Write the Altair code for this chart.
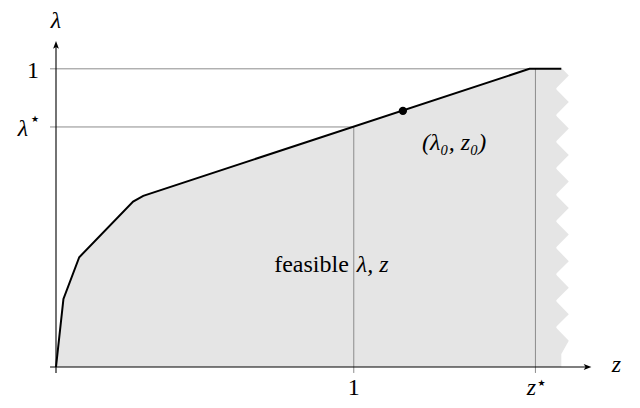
import altair as alt
import pandas as pd

# ---------------- data ----------------
# frontier of the feasible region (z, lambda)
CURVE_Z = [0.0, 0.025, 0.078, 0.259, 0.293, 1.59, 1.697]
CURVE_L = [0.0, 0.228, 0.368, 0.555, 0.574, 1.0, 1.0]
# shaded area under the frontier (stops at the zig-zag cut)
AREA_Z = [0.0, 0.025, 0.078, 0.259, 0.293, 1.59, 1.68]
AREA_L = [0.0, 0.228, 0.368, 0.555, 0.574, 1.0, 1.0]
# zig-zag right edge of the shaded region
ZIG_L = [1.0, 0.9775, 0.9332, 0.8886, 0.8443, 0.7997, 0.7554, 0.7107, 0.6664,
         0.6218, 0.5775, 0.5329, 0.4886, 0.4440, 0.3997, 0.3550, 0.3107,
         0.2661, 0.2218, 0.1772, 0.1329, 0.0883, 0.0436, 0.0]
ZIG_Z = [1.700, 1.722, 1.678, 1.722, 1.678, 1.722, 1.678, 1.722, 1.678,
         1.722, 1.678, 1.722, 1.678, 1.722, 1.678, 1.722, 1.678,
         1.722, 1.678, 1.722, 1.678, 1.722, 1.697, 1.697]
ZIG_BASE = 1.67

Z_STAR = 1.61
L_STAR = 0.805
Z0 = 1.165
L0 = 0.859

# reference lines
H_LINE_L = [1.0, L_STAR]
H_LINE_END = [1.59, 1.0]
V_LINE_Z = [1.0, Z_STAR]
V_LINE_END = [L_STAR, 1.0]

X_TICK_Z = [1.0]
X_TICK_TEXT = ["1"]
Y_TICK_L = [1.0]
Y_TICK_TEXT = ["1"]
REGION_Z = 1.0
REGION_L = 0.32

X_MAX = 1.785
Y_MAX = 1.08
OVER = 0.02   # little tick overhang beyond the axes

SERIF = "Liberation Serif"
FS = 24
GRAY = "#8c8c8c"
FILL = "#e5e5e5"

# ---------------- scales ----------------
xs = alt.Scale(domain=[0, 1.8], nice=False, zero=False)
ys = alt.Scale(domain=[0, 1.1], nice=False, zero=False)


def X(f, **k):
    return alt.X(f, scale=xs, axis=None, **k)


def Y(f, **k):
    return alt.Y(f, scale=ys, axis=None, **k)


curve = pd.DataFrame({"z": CURVE_Z, "l": CURVE_L, "i": list(range(len(CURVE_Z)))})
area_df = pd.DataFrame({"z": AREA_Z, "l": AREA_L, "l0": [0.0] * len(AREA_Z)})
zig_df = pd.DataFrame({"l": ZIG_L, "z": ZIG_Z, "zb": [ZIG_BASE] * len(ZIG_L)})

area_layer = alt.Chart(area_df).mark_area(fill=FILL, fillOpacity=1, stroke=None).encode(
    x=X("z:Q"), y=Y("l:Q"), y2="l0:Q")

zig_layer = alt.Chart(zig_df).mark_area(fill=FILL, fillOpacity=1, orient="horizontal").encode(
    y=Y("l:Q"), x=X("zb:Q"), x2="z:Q")

hl = pd.DataFrame({"l": H_LINE_L, "z2": H_LINE_END, "z": [-OVER] * 2})
hlines = alt.Chart(hl).mark_rule(color=GRAY, strokeWidth=1).encode(
    x=X("z:Q"), x2="z2:Q", y=Y("l:Q"))

vl = pd.DataFrame({"z": V_LINE_Z, "l2": V_LINE_END, "l": [-OVER] * 2})
vlines = alt.Chart(vl).mark_rule(color=GRAY, strokeWidth=1).encode(
    x=X("z:Q"), y=Y("l:Q"), y2="l2:Q")

axes_df = pd.DataFrame({"z": [-OVER, 0.0], "z2": [X_MAX, 0.0],
                        "l": [0.0, -OVER], "l2": [0.0, Y_MAX]})
axes = alt.Chart(axes_df).mark_rule(color="black", strokeWidth=1.1).encode(
    x=X("z:Q"), x2="z2:Q", y=Y("l:Q"), y2="l2:Q")

ARROW = "M1,0 L-1,-0.75 L-0.5,0 L-1,0.75 Z"
arrows_df = pd.DataFrame({"z": [X_MAX, 0.0], "l": [0.0, Y_MAX], "a": [0, 270]})
arrows = alt.Chart(arrows_df).mark_point(
    shape=ARROW, filled=True, color="black", size=60, opacity=1).encode(
    x=X("z:Q"), y=Y("l:Q"), angle=alt.Angle("a:Q", scale=None))

line = alt.Chart(curve).mark_line(color="black", strokeWidth=2).encode(
    x=X("z:Q"), y=Y("l:Q"), order="i:Q")

dot = alt.Chart(pd.DataFrame({"z": [Z0], "l": [L0]})).mark_point(
    filled=True, color="black", size=70, opacity=1).encode(x=X("z:Q"), y=Y("l:Q"))


def txt(z, l, t, **kw):
    base = dict(font=SERIF, fontSize=FS, color="black", baseline="alphabetic")
    base.update(kw)
    df = pd.DataFrame({"z": z, "l": l, "t": t})
    return alt.Chart(df).mark_text(**base).encode(x=X("z:Q"), y=Y("l:Q"), text="t:N")


STAR = dict(font="DejaVu Sans", fontSize=9, baseline="middle")

texts = [
    # axis names
    txt([0.0], [Y_MAX], ["λ"], fontStyle="italic", dy=-17),
    txt([X_MAX], [0.0], ["z"], fontStyle="italic", dx=29, dy=5),
    # y tick labels
    txt([0.0], Y_TICK_L, Y_TICK_TEXT, dx=-23, dy=9),
    txt([0.0], [L_STAR], ["λ"], fontStyle="italic", dx=-33, dy=9),
    txt([0.0], [L_STAR], ["★"], dx=-21, dy=-8, **STAR),
    # x tick labels
    txt(X_TICK_Z, [0.0], X_TICK_TEXT, dy=28),
    txt([Z_STAR], [0.0], ["z"], fontStyle="italic", dx=-4, dy=28),
    txt([Z_STAR], [0.0], ["★"], dx=6, dy=16, **STAR),
    # region label
    txt([REGION_Z], [REGION_L], ["feasible"], align="right", dx=-5),
    txt([REGION_Z], [REGION_L], ["λ, z"], align="left", fontStyle="italic", dx=3),
    # point label
    txt([Z0], [L0], ["(λ₀, z₀)"], align="left", fontStyle="italic", dx=19, dy=39),
]

chart = alt.layer(area_layer, zig_layer, hlines, vlines, axes, arrows, line, dot,
                  *texts).properties(
    width=536, height=328,
    autosize=alt.AutoSizeParams(type="none"),
    padding={"left": 48, "top": 31, "right": 38, "bottom": 33},
).configure_view(stroke=None)

chart.save("out.html", embed_options={"renderer": "svg", "actions": False})
